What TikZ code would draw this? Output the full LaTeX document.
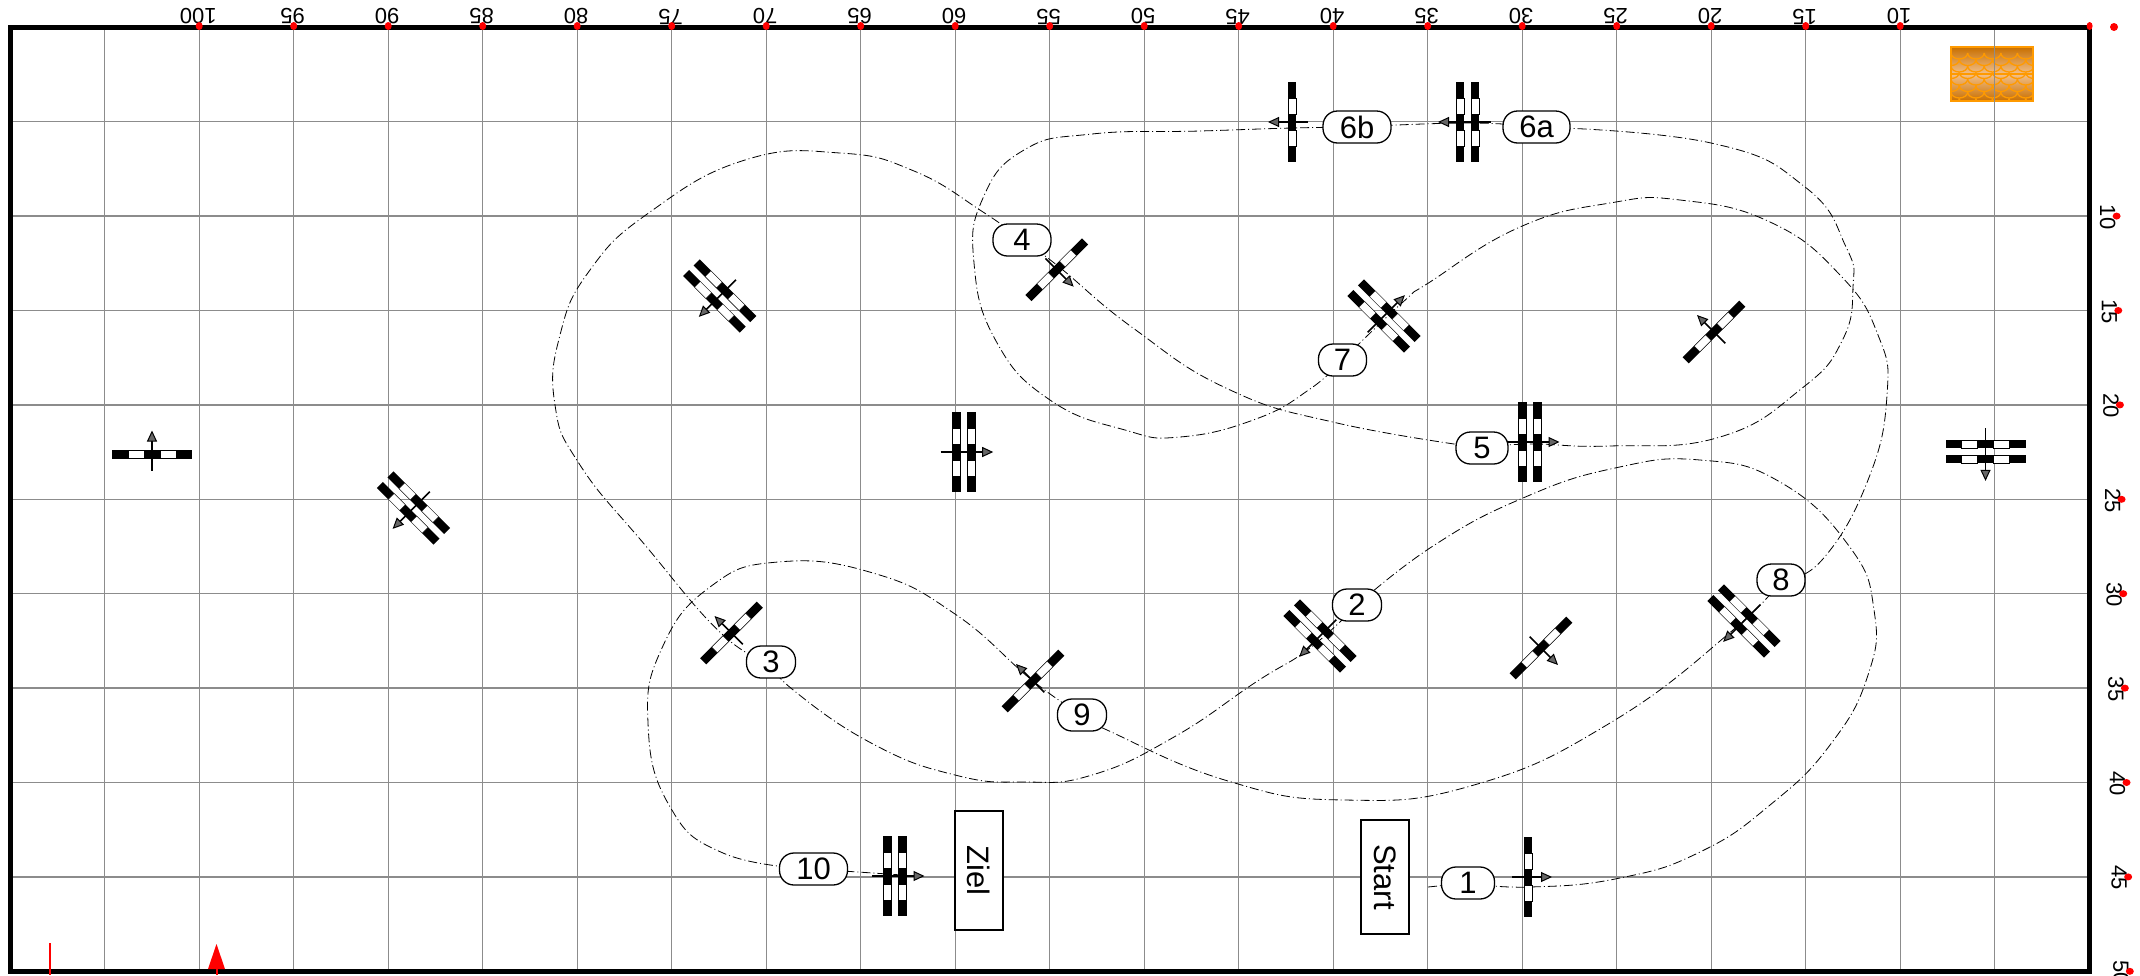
\documentclass[tikz,border=0pt]{standalone}
\usepackage{fontspec}
\setmainfont{Liberation Sans}
\usetikzlibrary{arrows.meta,positioning,backgrounds}
\definecolor{gridgray}{HTML}{8C8C8C}
\definecolor{pondmid}{HTML}{F3C08A}
\definecolor{ponddark}{HTML}{C86F00}
\definecolor{pondline}{HTML}{FF9A00}
\tikzset{
    tick/.style={font=\fontsize{22}{24}\selectfont, inner sep=0pt},
    number/.style={draw, fill=white, rounded corners=14.5pt, minimum height=32pt, inner sep=0pt, line width=1.3pt, font=\fontsize{31}{33}\selectfont},
    sign/.style={draw, fill=white, minimum width=114pt, minimum height=48pt, inner sep=0pt, line width=1.3pt, rotate=-90, font=\fontsize{31}{33}\selectfont},
    track/.style={line width=0.8pt, dash pattern=on 9pt off 3pt on 1pt off 3pt, smooth, tension=0.8},
    course/.style={line width=1.5pt, -{Triangle[length=11pt,width=10pt,fill=gray!80!black,line width=1pt]}},
    single/.pic={
        \fill[black] (-4.3,-40) rectangle (4.3,40);
        \filldraw[fill=white, line width=0.3pt] (-4,-24) rectangle (4,-8);
        \filldraw[fill=white, line width=0.3pt] (-4,8) rectangle (4,24);
        \draw[course] (-16,0) -- (24,0);
    },
    double/.pic={
        \foreach \rx in {-7.5,7.5} {
            \fill[black] (\rx-4.3,-40) rectangle (\rx+4.3,40);
            \filldraw[fill=white, line width=0.3pt] (\rx-4,-24) rectangle (\rx+4,-8);
            \filldraw[fill=white, line width=0.3pt] (\rx-4,8) rectangle (\rx+4,24);
        }
        \draw[course] (-23,0) -- (29.5,0);
    }
}
\begin{document}
\begin{tikzpicture}[x=1pt, y=-1pt]
\useasboundingbox (0,0) rectangle (2140,975);

% pills and signs
\node[number, minimum width=53pt] (n1) at (1468,883) {1};
\node[number, minimum width=49pt] (n2) at (1357,605) {2};
\node[number, minimum width=49pt] (n3) at (771,662) {3};
\node[number, minimum width=58pt] (n4) at (1022,240) {4};
\node[number, minimum width=52pt] (n5) at (1482,448) {5};
\node[number, minimum width=67pt] (n6a) at (1536.5,127) {6a};
\node[number, minimum width=68pt] (n6b) at (1357,127) {6b};
\node[number, minimum width=48pt] (n7) at (1342.5,360) {7};
\node[number, minimum width=48pt] (n8) at (1781,580) {8};
\node[number, minimum width=49pt] (n9) at (1082,715) {9};
\node[number, minimum width=68pt] (n10) at (813.5,869) {10};
\node[sign] (start) at (1385,877) {Start};
\node[sign, minimum width=119pt] (ziel) at (979,870.5) {Ziel};

\coordinate (entry) at (1428,887);
\coordinate (exit) at (917,876);

% water, grid and track below everything
\begin{scope}[on background layer]
    \shade[top color=ponddark, bottom color=pondmid] (1951,47) rectangle (2033,74);
    \shade[top color=pondmid, bottom color=ponddark] (1951,74) rectangle (2033,101);
    \begin{scope}
        \clip (1951,47) rectangle (2033,101);
        \foreach \row in {0,...,8} {
            \pgfmathsetmacro{\rowy}{47+\row*6.5}
            \pgfmathsetmacro{\rowx}{1951-16.6+mod(\row,2)*8.3}
            \foreach \col in {0,...,6} {
                \draw[pondline, line width=1.3pt] (\rowx+\col*16.6,\rowy+6) arc[start angle=180, end angle=360, x radius=8.3, y radius=-6];
            }
        }
    \end{scope}
    \draw[pondline, line width=1.6pt] (1951,47) rectangle (2033,101);
    \draw[pondline, line width=1.6pt] (1951,74) -- (2033,74);

    \foreach \col in {0,...,20}
        \draw[gridgray, line width=1.3pt] (104.7+\col*94.5,27) -- (104.7+\col*94.5,971);
    \foreach \row in {0,...,8}
        \draw[gridgray, line width=1.3pt] (10,121.7+\row*94.4) -- (2089,121.7+\row*94.4);

    \draw[track] plot coordinates {(entry) (n1)};
    \draw[track] plot coordinates {(n1) (1530,887) (1620,878) (1700,852) (1770,805) (1830,745) (1868,675) (1874,610) (1849,546) (1780,482) (1700,460) (1615,468) (1523,498) (1433,546) (n2)};
    \draw[track] plot coordinates {(n2) (1310,648) (1256,682) (1174,737) (1092,775) (1024,782) (955,775) (873,744) (792,689) (n3)};
    \draw[track] plot coordinates {(n3) (723,635) (645,545) (580,465) (555,405) (560,335) (590,270) (650,212) (745,160) (840,153) (914,171) (983,212) (n4)};
    \draw[track] plot coordinates {(n4) (1058,266) (1133,328) (1228,389) (1337,423) (n5)};
    \draw[track] plot coordinates {(n5) (1529,444) (1610,446) (1720,437) (1801,389) (1842,341) (1853,287) (1846,247) (1805,187) (1711,143) (n6a)};
    \draw[track] plot coordinates {(n6a) (1468,123) (n6b)};
    \draw[track] plot coordinates {(n6b) (1292,128) (1200,131) (1092,134) (1024,150) (983,198) (974,263) (996,341) (1050,400) (1125,430) (1180,437) (1256,419) (1310,389) (n7)};
    \draw[track] plot coordinates {(n7) (1403,302) (1430,282) (1520,227) (1610,203) (1680,200) (1770,222) (1840,275) (1878,335) (1887,395) (1868,480) (1822,560) (n8)};
    \draw[track] plot coordinates {(n8) (1733,630) (1610,723) (1474,785) (1344,800) (1228,781) (1107,730) (n9)};
    \draw[track] plot coordinates {(n9) (1033,681) (955,614) (873,573) (778,562) (710,587) (662,648) (648,723) (669,805) (723,853) (n10)};
    \draw[track] plot coordinates {(n10) (exit)};
\end{scope}

% frame
\draw[line width=5pt] (10,27) rectangle (2089,971.5);

% rulers
\foreach \val in {10,15,...,100} {
    \pgfmathsetmacro{\valx}{199.2+(100-\val)*18.9}
    \node[tick, rotate=180] (top\val) at (\valx-1,16.5) {\val};
    \fill[red] (\valx,26) ellipse[x radius=3.5, y radius=4];
}
\foreach \val in {10,15,...,50} {
    \pgfmathsetmacro{\valy}{121.7+(\val-5)*18.88}
    \pgfmathsetmacro{\valx}{2116.6+(\val-10)*0.33}
    \node[tick, rotate=-90] (side\val) at (\valx-9,\valy+1) {\val};
    \fill[red] (\valx,\valy) ellipse[x radius=4, y radius=3.5];
}
\fill[red] (2089.6,26) ellipse[x radius=3, y radius=4];
\fill[red] (2114,27) circle[radius=4];

% red marks
\draw[red, line width=2pt] (50,943) -- (50,975);
\draw[red, line width=2pt] (216.5,965) -- (216.5,975);
\fill[red] (216.5,944) -- (225,969) -- (208,969) -- cycle;

% fences
\foreach \fx/\fy/\fa in {152/454.5/90, 1056.7/269.7/-45, 1528/877/0, 1292/122/180, 1714/332/135, 1541/648/-45, 1033/681/135, 731.5/633/135}
    \path (\fx,\fy) pic[rotate=\fa] {single};
\foreach \fx/\fy/\fa in {413.5/508/225, 719.7/296/225, 963.7/452/0, 1985.5/451.4/270, 1530/442/0, 1467.5/122/180, 1384/316/45, 1744/621/225, 1320/636/225, 895/876/0}
    \path (\fx,\fy) pic[rotate=\fa] {double};
\end{tikzpicture}
\end{document}
